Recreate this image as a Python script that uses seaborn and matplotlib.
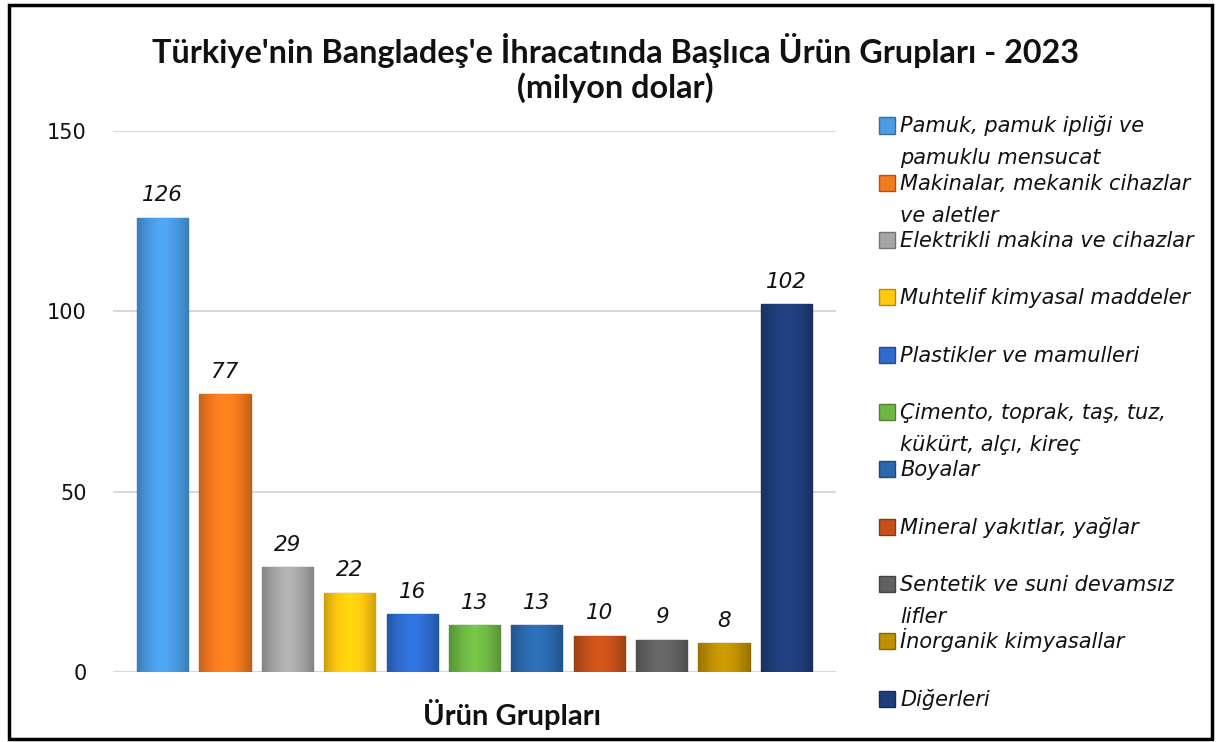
import numpy as np
import pandas as pd
import matplotlib
matplotlib.use("Agg")
import matplotlib.pyplot as plt
import seaborn as sns
from matplotlib.patches import Rectangle
from matplotlib.colors import to_rgb

# ---------------- data ----------------
categories = [
    "Pamuk, pamuk ipliği ve pamuklu mensucat",
    "Makinalar, mekanik cihazlar ve aletler",
    "Elektrikli makina ve cihazlar",
    "Muhtelif kimyasal maddeler",
    "Plastikler ve mamulleri",
    "Çimento, toprak, taş, tuz, kükürt, alçı, kireç",
    "Boyalar",
    "Mineral yakıtlar, yağlar",
    "Sentetik ve suni devamsız lifler",
    "İnorganik kimyasallar",
    "Diğerleri",
]
legend_labels = [
    "Pamuk, pamuk ipliği ve\npamuklu mensucat",
    "Makinalar, mekanik cihazlar\nve aletler",
    "Elektrikli makina ve cihazlar",
    "Muhtelif kimyasal maddeler",
    "Plastikler ve mamulleri",
    "Çimento, toprak, taş, tuz,\nkükürt, alçı, kireç",
    "Boyalar",
    "Mineral yakıtlar, yağlar",
    "Sentetik ve suni devamsız\nlifler",
    "İnorganik kimyasallar",
    "Diğerleri",
]
values = [126, 77, 29, 22, 16, 13, 13, 10, 9, 8, 102]
colors = ["#4A9CE4", "#F47A1E", "#A6A6A6", "#FFC90E", "#2F6CD1", "#6EB843",
          "#2A69AE", "#C5501A", "#616161", "#C09000", "#1F3D7A"]
yticks = [0, 50, 100, 150]
title_lines = ["Türkiye'nin Bangladeş'e İhracatında Başlıca Ürün Grupları - 2023",
               "(milyon dolar)"]
xlabel = "Ürün Grupları"

# ---------------- figure ----------------
W, H = 1219, 742
sns.set_theme(style="white")
plt.rcParams["font.family"] = ["Lato", "DejaVu Sans"]
BODY = ["DejaVu Sans"]

fig = plt.figure(figsize=(W / 100, H / 100), dpi=100)
fig.patch.set_facecolor("white")
ax = fig.add_axes([113 / W, 1 - 672 / H, (836 - 113) / W, (672 - 131) / H])

df = pd.DataFrame({"cat": categories, "val": values})
sns.barplot(data=df, x="cat", y="val", hue="cat", palette=colors, saturation=1,
            width=0.82, legend=False, ax=ax, zorder=3)


def darker(c, f=0.7):
    r, g, b = to_rgb(c)
    return (r * f, g * f, b * f)


ax.set_xlim(-0.795, 10.795)
ax.set_ylim(0, 150)

# gradient shading clipped to each bar
for cont, c in zip(ax.containers, colors):
    for p in cont.patches:
        p.set_edgecolor(darker(c, 0.75))
        p.set_linewidth(1.0)
        bb = p.get_bbox()
        t = np.linspace(0, 1, 80)
        f = 0.80 + 0.28 * (1 - np.abs(2 * t - 1) ** 1.6)
        base = np.array(to_rgb(c))
        row = np.clip(base[None, :] * f[:, None], 0, 1)
        img = ax.imshow(row[None, :, :], extent=[bb.x0, bb.x1, bb.y0, bb.y1],
                        aspect="auto", interpolation="bilinear", zorder=3.5)
        img.set_clip_path(p)
    ax.bar_label(cont, fmt="%d", padding=9, fontsize=15.5, style="italic",
                 color="#111111", family=BODY)

ax.set_xlim(-0.795, 10.795)
ax.set_ylim(0, 150)
ax.set_yticks(yticks)
ax.set_xticks([])
ax.set_xlabel("")
ax.set_ylabel("")
ax.yaxis.grid(True, color="#D9D9D9", linewidth=1.5)
ax.set_axisbelow(True)
for s in ax.spines.values():
    s.set_visible(False)
ax.tick_params(axis="y", length=0, pad=19, labelsize=15, labelcolor="#111111")
for lbl in ax.get_yticklabels():
    lbl.set_family(BODY)

# titles
t1 = fig.text(615 / W, 1 - 50 / H, title_lines[0], ha="center", va="center",
              fontsize=22, fontweight="bold", color="#111111")
fig.canvas.draw()
w1 = t1.get_window_extent().width
fs = 22 * 925 / w1
t1.set_fontsize(fs)
fig.text(615 / W, 1 - 88 / H, title_lines[1], ha="center", va="center",
         fontsize=fs, fontweight="bold", color="#111111")

fig.text(512 / W, 1 - 715 / H, xlabel, ha="center", va="center",
         fontsize=21, fontweight="bold", color="#111111")

# legend (manual, evenly spaced like the original)
for i, (lab, c) in enumerate(zip(legend_labels, colors)):
    yc = 125.5 + i * 57.3
    fig.add_artist(Rectangle((879 / W, 1 - (yc + 8) / H), 16 / W, 16 / H,
                             transform=fig.transFigure, facecolor=c,
                             edgecolor=darker(c, 0.7), linewidth=1))
    for j, line in enumerate(lab.split("\n")):
        fig.text(900 / W, 1 - (yc + 7 + j * 32) / H, line, ha="left",
                 va="baseline", fontsize=15, style="italic", color="#111111",
                 family=BODY)

# outer frame
fig.add_artist(Rectangle((9 / W, 1 - 739 / H), (1212 - 9) / W, (739 - 5) / H,
                         transform=fig.transFigure, fill=False,
                         edgecolor="black", linewidth=2.5))

fig.savefig("out.png", dpi=100, facecolor="white")
